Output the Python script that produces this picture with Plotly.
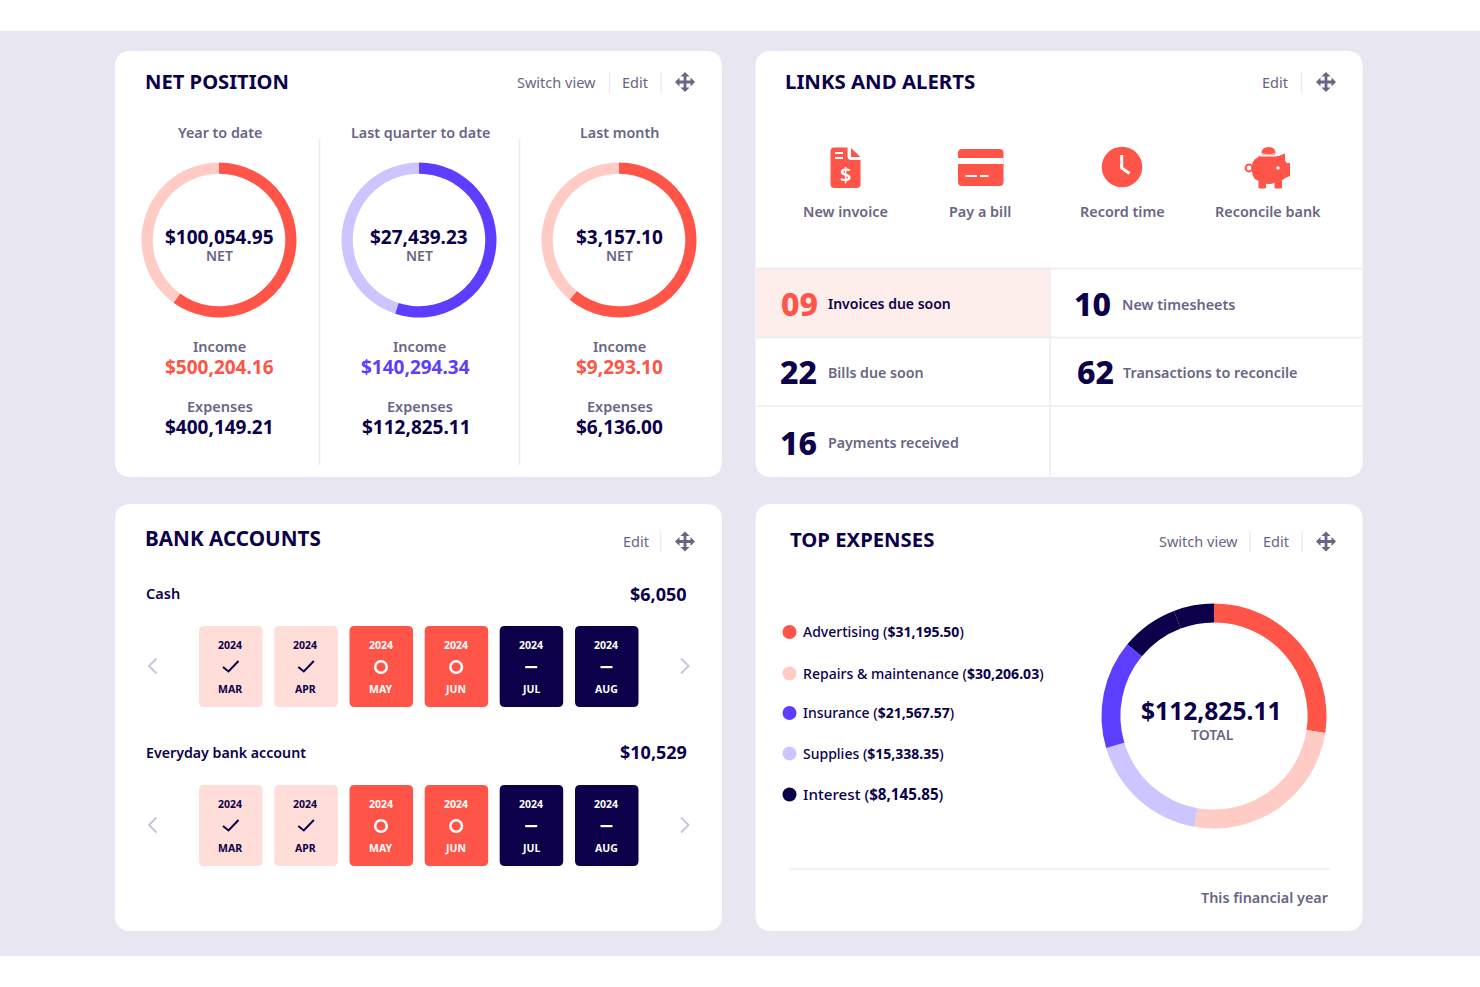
import plotly.graph_objects as go

W, H = 1480, 987
FONT = "Noto Sans"
NAVY = "#0B0049"
GREY = "#6A6585"
RED = "#FF5548"
BLUE = "#5B3EFF"
PINK = "#FFCCC5"
LILAC = "#CDC5FF"
RULE = "#ECEBF3"

# Net position
periods = ["Year to date", "Last quarter to date", "Last month"]
net_values = ["$100,054.95", "$27,439.23", "$3,157.10"]
income_values = ["$500,204.16", "$140,294.34", "$9,293.10"]
expense_values = ["$400,149.21", "$112,825.11", "$6,136.00"]
arc_income_share = [60, 55, 61]
arc_rest_share = [40, 45, 39]

# Links and alerts
link_labels = ["New invoice", "Pay a bill", "Record time", "Reconcile bank"]
alert_counts = ["09", "10", "22", "62", "16"]
alert_labels = ["Invoices due soon", "New timesheets", "Bills due soon",
                "Transactions to reconcile", "Payments received"]

# Bank accounts
accounts = ["Cash", "Everyday bank account"]
balances = ["$6,050", "$10,529"]
months = ["MAR", "APR", "MAY", "JUN", "JUL", "AUG"]
month_year = ["2024", "2024", "2024", "2024", "2024", "2024"]
month_status = ["done", "done", "open", "open", "none", "none"]

# Top expenses
expense_names = ["Advertising", "Repairs & maintenance", "Insurance", "Supplies", "Interest"]
expense_amounts = ["$31,195.50", "$30,206.03", "$21,567.57", "$15,338.35", "$8,145.85"]
expense_colors = [RED, PINK, BLUE, LILAC, NAVY]
ring_shares = [27.4, 25.4, 17.6, 15.6, 8.2, 5.8]
ring_colors = [RED, PINK, LILAC, BLUE, NAVY, NAVY]

shapes = []
annotations = []


def label(x, y, text, size, color=GREY, weight=600, anchor="center"):
    # larger text sits about a pixel low with yanchor middle
    if size >= 13:
        y -= 1
    annotations.append(dict(
        x=x, y=y, xref="x", yref="y", text=text, showarrow=False,
        xanchor=anchor, yanchor="middle", borderpad=0, borderwidth=0,
        font=dict(family=FONT, size=size, color=color, weight=weight),
    ))


def fill_path(path, color, layer="above"):
    shapes.append(dict(type="path", xref="x", yref="y", path=path, fillcolor=color,
                       line=dict(width=0), layer=layer))


def stroke_path(path, color, width):
    shapes.append(dict(type="path", xref="x", yref="y", path=path, line=dict(color=color, width=width)))


def rect(x0, y0, x1, y1, color, layer="above"):
    shapes.append(dict(type="rect", xref="x", yref="y", x0=x0, y0=y0, x1=x1, y1=y1,
                       fillcolor=color, line=dict(width=0), layer=layer))


def circle(cx, cy, r, fill=None, line_color=None, line_width=0):
    shapes.append(dict(type="circle", xref="x", yref="y", x0=cx - r, y0=cy - r, x1=cx + r, y1=cy + r,
                       fillcolor=fill if fill else "rgba(0,0,0,0)",
                       line=dict(color=line_color if line_color else "rgba(0,0,0,0)", width=line_width)))


def rounded(x0, y0, x1, y1, r):
    return (f"M{x0 + r},{y0} L{x1 - r},{y0} Q{x1},{y0} {x1},{y0 + r} L{x1},{y1 - r} Q{x1},{y1} {x1 - r},{y1} "
            f"L{x0 + r},{y1} Q{x0},{y1} {x0},{y1 - r} L{x0},{y0 + r} Q{x0},{y0} {x0 + r},{y0} Z")


def vline(x, y0, y1, width=1.5):
    stroke_path(f"M{x},{y0} L{x},{y1}", RULE, width)


def hline(x0, x1, y, width=1.5):
    stroke_path(f"M{x0},{y} L{x1},{y}", RULE, width)


def move_icon(cx, cy):
    b = 1.4
    fill_path(f"M{cx - b},{cy - 6} L{cx + b},{cy - 6} L{cx + b},{cy - b} L{cx + 6},{cy - b} L{cx + 6},{cy + b} "
              f"L{cx + b},{cy + b} L{cx + b},{cy + 6} L{cx - b},{cy + 6} L{cx - b},{cy + b} L{cx - 6},{cy + b} "
              f"L{cx - 6},{cy - b} L{cx - b},{cy - b} Z", GREY)
    fill_path(f"M{cx - 4.6},{cy - 5.5} L{cx},{cy - 10} L{cx + 4.6},{cy - 5.5} Z", GREY)
    fill_path(f"M{cx - 4.6},{cy + 5.5} L{cx},{cy + 10} L{cx + 4.6},{cy + 5.5} Z", GREY)
    fill_path(f"M{cx - 5.5},{cy - 4.6} L{cx - 10},{cy} L{cx - 5.5},{cy + 4.6} Z", GREY)
    fill_path(f"M{cx + 5.5},{cy - 4.6} L{cx + 10},{cy} L{cx + 5.5},{cy + 4.6} Z", GREY)


def ring(values, colors, cx, cy, r, hole):
    return go.Pie(
        values=values, marker=dict(colors=colors, line=dict(width=0)),
        hole=hole, sort=False, direction="clockwise", rotation=0,
        textinfo="none", hoverinfo="skip", showlegend=False,
        domain=dict(x=[(cx - r) / W, (cx + r) / W], y=[1 - (cy + r) / H, 1 - (cy - r) / H]),
    )


# page background and the four cards
rect(0, 31, W, 956, "#E8E6F0", "below")
for x0, y0, x1, y1 in [(115, 51, 722, 477), (755.5, 51, 1362.5, 477), (115, 504, 722, 931), (755.5, 504, 1362.5, 931)]:
    fill_path(rounded(x0, y0, x1, y1, 16), "white", "below")

fig = go.Figure()

# NET POSITION
label(144.8, 82, "NET POSITION", 20.2, NAVY, 700, "left")
label(556, 83, "Switch view", 14.5, GREY, 400)
label(635, 83, "Edit", 14.5, GREY, 400)
vline(609.5, 72, 93)
vline(661, 72, 93)
move_icon(685, 82)
vline(319.5, 139, 465)
vline(519.5, 139, 465)

ring_x = [219, 419, 619]
head_x = [219.5, 420.5, 619.5]
income_x = [219.5, 415.5, 619.5]
expense_x = [219.5, 416, 619.5]
for i in range(3):
    main, soft = (BLUE, LILAC) if i == 1 else (RED, PINK)
    fig.add_trace(ring([arc_income_share[i], arc_rest_share[i]], [main, soft], ring_x[i], 240, 77.5, 0.855))
    label(head_x[i], 133, periods[i], 14.3)
    label(ring_x[i], 237.5, net_values[i], 19, NAVY, 700)
    label(ring_x[i], 256.5, "NET", 14)
    label(ring_x[i] + 0.5, 347, "Income", 14.5)
    label(income_x[i], 368, income_values[i], 19, main, 700)
    label(ring_x[i] + 0.5, 407, "Expenses", 14.5)
    label(expense_x[i], 428, expense_values[i], 19, NAVY, 700)

# LINKS AND ALERTS
label(784.5, 82, "LINKS AND ALERTS", 20.4, NAVY, 700, "left")
label(1275, 83, "Edit", 14.5, GREY, 400)
vline(1301.5, 72, 93)
move_icon(1326, 82)

# document icon
fill_path("M834,147.5 L847.5,147.5 L847.5,156 Q847.5,160 851,160 L860.5,160 L860.5,184 Q860.5,188 857,188 "
          "L834.5,188 Q830.5,188 830.5,184 L830.5,151 Q830.5,147.5 834,147.5 Z", RED)
fill_path("M851,148 L860.5,157 L851,157 Z", RED)
rect(835, 152, 843, 154, "white")
rect(835, 157, 843, 159, "white")
label(845.5, 175, "$", 20, "white", 600)
# card icon
fill_path(rounded(958, 149, 1003.5, 186, 4), RED)
rect(958, 158, 1003.5, 164, "white")
rect(965.5, 175, 977, 177, "white")
rect(980, 175, 988.5, 177, "white")
# clock icon
circle(1122, 167, 20.3, RED)
stroke_path("M1121.7,155 L1121.7,168 L1129.5,173.5", "white", 3)
# piggy icon
circle(1249, 168, 3.4, None, RED, 2)
circle(1268.5, 168.5, 15.5, RED)
fill_path(rounded(1252, 157, 1287, 181, 10), RED)
fill_path("M1276,157 L1285,153.5 L1285,163 L1290,163 L1290,176 L1280,180 Z", RED)
fill_path(rounded(1258.5, 176, 1266, 188.5, 1.5), RED)
fill_path(rounded(1274.5, 176, 1282, 188.5, 1.5), RED)
fill_path("M1261.5,153.5 Q1261.5,147 1268.5,147 Q1275.5,147 1275.5,153.5 Z", RED)
stroke_path("M1260,155.5 L1277,155.5", "white", 2)
circle(1278, 168, 1.8, "white")

link_x = [845.5, 979.5, 1122, 1268]
for x, text in zip(link_x, link_labels):
    label(x, 212, text, 14.4)

rect(756, 269, 1050, 337.5, "#FDEEEC")
hline(755.5, 1362.5, 268.5)
hline(755.5, 1362.5, 337.5)
hline(755.5, 1362.5, 406)
vline(1050, 268.5, 477)

count_x = [781, 1074, 780, 1076.5, 779.5]
text_x = [828, 1122, 828, 1123, 828]
row_y = [304, 304, 372, 372, 443]
text_y = [304, 305.5, 373, 373, 443]
text_size = [14, 14.4, 14.2, 14.4, 14.2]
for i in range(5):
    label(count_x[i], row_y[i], alert_counts[i], 32, RED if i == 0 else NAVY, 800, "left")
    label(text_x[i], text_y[i], alert_labels[i], text_size[i], NAVY if i == 0 else GREY, 600, "left")

# BANK ACCOUNTS
label(144.8, 539, "BANK ACCOUNTS", 20.7, NAVY, 700, "left")
label(636, 542, "Edit", 14.5, GREY, 400)
vline(660.5, 531, 552)
move_icon(685, 541.5)

card_x = [199, 274.3, 349.5, 424.7, 499.7, 575]
account_size = [14.5, 14.2]
balance_y = [594.5, 752.5]
for row, top in enumerate([626, 785]):
    label(146, top - 32, accounts[row], account_size[row], NAVY, 600, "left")
    label(687, balance_y[row], balances[row], 18, NAVY, 700, "right")
    mid = top + 40
    stroke_path(f"M156.5,{mid - 7.5} L149,{mid} L156.5,{mid + 7.5}", "#C9C6DC", 2)
    stroke_path(f"M681,{mid - 7.5} L688.5,{mid} L681,{mid + 7.5}", "#C9C6DC", 2)
    for j, month in enumerate(months):
        x0 = card_x[j]
        state = month_status[j]
        back = {"done": "#FFDDD9", "open": RED, "none": NAVY}[state]
        ink = NAVY if state == "done" else "white"
        fill_path(rounded(x0, top, x0 + 63.5, top + 81, 5), back)
        cx = x0 + 31.5
        label(cx - 0.4, top + 19, month_year[j], 10.5, ink, 700)
        label(cx - 0.4, top + 63, month, 10.5, ink, 700)
        if state == "done":
            stroke_path(f"M{cx - 7.5},{mid + 1} L{cx - 2},{mid + 5.5} L{cx + 8},{mid - 5}", NAVY, 2)
        elif state == "open":
            circle(cx, mid + 1, 5.8, None, "white", 2.5)
        else:
            rect(cx - 6, mid, cx + 6, mid + 2.2, "white")

# TOP EXPENSES
label(790, 540, "TOP EXPENSES", 20.3, NAVY, 700, "left")
label(1198, 542, "Switch view", 14.5, GREY, 400)
label(1276, 542, "Edit", 14.5, GREY, 400)
vline(1250, 531, 552)
vline(1302, 531, 552)
move_icon(1326, 541.5)

legend_y = [632, 673.5, 713, 753.5, 794.5]
legend_size = [14, 14.05, 14, 14, 15.2]
fig.add_trace(go.Scatter(
    x=[789.5] * 5, y=legend_y, mode="markers",
    marker=dict(size=14, color=expense_colors, line=dict(width=0)),
    hoverinfo="skip", showlegend=False, xaxis="x", yaxis="y",
))
for i in range(5):
    text = f"{expense_names[i].replace('&', '&amp;')} (<b>{expense_amounts[i]}</b>)"
    label(803, legend_y[i] + 0.5, text, legend_size[i], NAVY, 500, "left")

fig.add_trace(ring(ring_shares, ring_colors, 1214, 716, 112.5, 0.832))
label(1211.5, 711.5, "$112,825.11", 24.6, NAVY, 700)
label(1212, 735.5, "TOTAL", 14)
hline(789, 1330, 869)
label(1328.5, 898, "This financial year", 14.4, GREY, 600, "right")

fig.update_layout(
    width=W, height=H,
    margin=dict(l=0, r=0, t=0, b=0),
    paper_bgcolor="white", plot_bgcolor="white",
    xaxis=dict(range=[0, W], visible=False, fixedrange=True),
    yaxis=dict(range=[H, 0], visible=False, fixedrange=True),
    shapes=shapes, annotations=annotations, showlegend=False,
)

fig.write_html("out.html", config=dict(displayModeBar=False),
               post_script="document.body.style.margin='0';document.body.style.overflow='hidden';")
